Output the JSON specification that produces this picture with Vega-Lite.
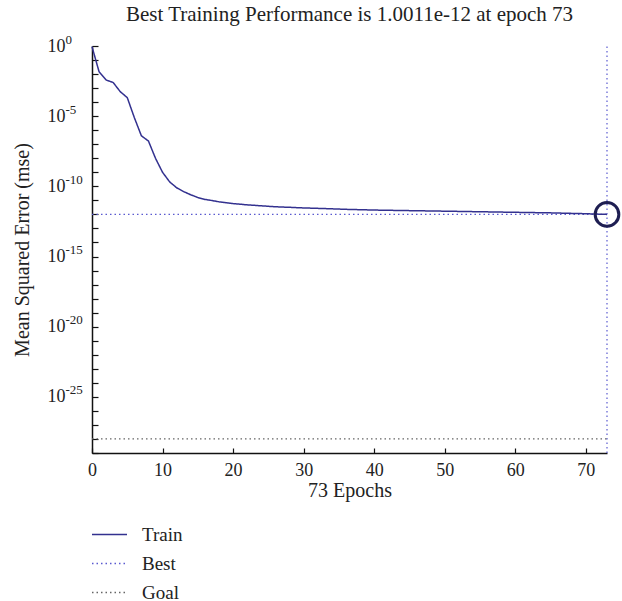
{
  "$schema": "https://vega.github.io/schema/vega-lite/v6.json",
  "autosize": {"type": "none"},
  "padding": {"left": 92, "top": 46, "right": 15, "bottom": 148},
  "width": 515,
  "height": 407,
  "background": "white",
  "config": {
    "view": {"stroke": null},
    "font": "Liberation Serif",
    "axis": {"labelFont": "Liberation Serif", "titleFont": "Liberation Serif", "labelColor": "#222", "titleColor": "#222", "titleFontWeight": "normal", "domainColor": "#111", "tickColor": "#111", "grid": false},
    "legend": {"orient": "none", "legendX": -1, "legendY": 470, "direction": "vertical", "symbolType": "stroke", "symbolSize": 1225, "symbolStrokeWidth": 1.5, "labelFont": "Liberation Serif", "labelFontSize": 19, "labelColor": "#222", "labelOffset": 14, "rowPadding": -10, "padding": 0}
  },
  "title": {"text": "Best Training Performance is 1.0011e-12 at epoch 73", "font": "Liberation Serif", "fontSize": 21, "fontWeight": "normal", "color": "#222", "offset": 8},
  "datasets": {
    "train": [
      {"epoch": 0, "mse": 0.9, "series": "Train"},
      {"epoch": 1, "mse": 0.0148, "series": "Train"},
      {"epoch": 2, "mse": 0.0038, "series": "Train"},
      {"epoch": 3, "mse": 0.0025, "series": "Train"},
      {"epoch": 4, "mse": 0.00056, "series": "Train"},
      {"epoch": 5, "mse": 0.00021, "series": "Train"},
      {"epoch": 6, "mse": 7.9e-6, "series": "Train"},
      {"epoch": 7, "mse": 4e-7, "series": "Train"},
      {"epoch": 8, "mse": 1.7e-7, "series": "Train"},
      {"epoch": 9, "mse": 1e-8, "series": "Train"},
      {"epoch": 10, "mse": 1e-9, "series": "Train"},
      {"epoch": 11, "mse": 2.1e-10, "series": "Train"},
      {"epoch": 12, "mse": 7.9e-11, "series": "Train"},
      {"epoch": 13, "mse": 4.2e-11, "series": "Train"},
      {"epoch": 14, "mse": 2.5e-11, "series": "Train"},
      {"epoch": 15, "mse": 1.6e-11, "series": "Train"},
      {"epoch": 16, "mse": 1.17e-11, "series": "Train"},
      {"epoch": 17, "mse": 9.8e-12, "series": "Train"},
      {"epoch": 18, "mse": 7.9e-12, "series": "Train"},
      {"epoch": 19, "mse": 6.8e-12, "series": "Train"},
      {"epoch": 20, "mse": 5.9e-12, "series": "Train"},
      {"epoch": 22, "mse": 4.8e-12, "series": "Train"},
      {"epoch": 24, "mse": 4.1e-12, "series": "Train"},
      {"epoch": 26, "mse": 3.5e-12, "series": "Train"},
      {"epoch": 28, "mse": 3.2e-12, "series": "Train"},
      {"epoch": 30, "mse": 2.9e-12, "series": "Train"},
      {"epoch": 33, "mse": 2.6e-12, "series": "Train"},
      {"epoch": 36, "mse": 2.3e-12, "series": "Train"},
      {"epoch": 40, "mse": 2.04e-12, "series": "Train"},
      {"epoch": 45, "mse": 1.86e-12, "series": "Train"},
      {"epoch": 50, "mse": 1.7e-12, "series": "Train"},
      {"epoch": 55, "mse": 1.55e-12, "series": "Train"},
      {"epoch": 60, "mse": 1.41e-12, "series": "Train"},
      {"epoch": 65, "mse": 1.29e-12, "series": "Train"},
      {"epoch": 70, "mse": 1.12e-12, "series": "Train"},
      {"epoch": 73, "mse": 1.0011e-12, "series": "Train"}
    ],
    "refs": [
      {"series": "Best", "x": 0, "x2": 73, "y": 1.0011e-12, "y2": 1.0011e-12},
      {"series": "Best", "x": 73, "x2": 73, "y": 1e-29, "y2": 1},
      {"series": "Goal", "x": 0, "x2": 73, "y": 1e-28, "y2": 1e-28}
    ],
    "best": [{"epoch": 73, "mse": 1.0011e-12}]
  },
  "layer": [
    {
      "data": {"name": "refs"},
      "mark": {"type": "rule", "strokeWidth": 1.2},
      "encoding": {
        "x": {"field": "x", "type": "quantitative", "scale": {"domain": [0, 73], "nice": false, "zero": false},
          "axis": {"title": "73 Epochs", "values": [0, 10, 20, 30, 40, 50, 60, 70], "tickSize": -5, "labelFontSize": 18, "titleFontSize": 20, "labelPadding": 13, "titlePadding": 1, "labelFlush": false, "domainWidth": 1.5, "tickWidth": 1.2}},
        "x2": {"field": "x2"},
        "y": {"field": "y", "type": "quantitative", "scale": {"type": "log", "domain": [1e-29, 1], "nice": false},
          "axis": {"orient": "left", "title": "Mean Squared Error (mse)", "values": [1, 1e-1, 1e-2, 1e-3, 1e-4, 1e-5, 1e-6, 1e-7, 1e-8, 1e-9, 1e-10, 1e-11, 1e-12, 1e-13, 1e-14, 1e-15, 1e-16, 1e-17, 1e-18, 1e-19, 1e-20, 1e-21, 1e-22, 1e-23, 1e-24, 1e-25, 1e-26, 1e-27, 1e-28, 1e-29],
            "labelExpr": "round(-log(datum.value)/LN10) % 5 == 0 ? '10' : ''",
            "tickSize": -6, "labelFontSize": 18, "titleFontSize": 20, "labelPadding": 33, "titlePadding": 15, "labelFlush": false, "labelOverlap": false, "domainWidth": 1.5, "tickWidth": 1.2}},
        "y2": {"field": "y2"},
        "color": {"field": "series", "type": "nominal", "scale": {"domain": ["Train", "Best", "Goal"], "range": ["#33318f", "#5a5ad0", "#666666"]}, "legend": {"title": null}},
        "strokeDash": {"field": "series", "type": "nominal", "scale": {"domain": ["Train", "Best", "Goal"], "range": [[1, 0], [1.5, 3], [1.5, 3]]}, "legend": {"title": null}}
      }
    },
    {
      "data": {"name": "train"},
      "mark": {"type": "line", "strokeWidth": 1.5},
      "encoding": {
        "x": {"field": "epoch", "type": "quantitative"},
        "y": {"field": "mse", "type": "quantitative",
          "axis": {"orient": "left", "title": null, "domain": false, "ticks": false, "values": [1, 1e-5, 1e-10, 1e-15, 1e-20, 1e-25],
            "labelExpr": "datum.value == 1 ? '0' : '-' + round(-log(datum.value)/LN10)",
            "labelAlign": "left", "labelFontSize": 13, "labelPadding": 27, "labelOffset": -7, "labelFlush": false, "labelOverlap": false}},
        "color": {"field": "series", "type": "nominal"},
        "strokeDash": {"field": "series", "type": "nominal"}
      }
    },
    {
      "data": {"name": "best"},
      "mark": {"type": "point", "filled": false, "stroke": "#1e1e52", "strokeWidth": 3, "size": 560, "opacity": 1},
      "encoding": {
        "x": {"field": "epoch", "type": "quantitative"},
        "y": {"field": "mse", "type": "quantitative", "axis": null}
      }
    }
  ],
  "resolve": {"scale": {"y": "shared"}, "axis": {"y": "independent"}}
}
